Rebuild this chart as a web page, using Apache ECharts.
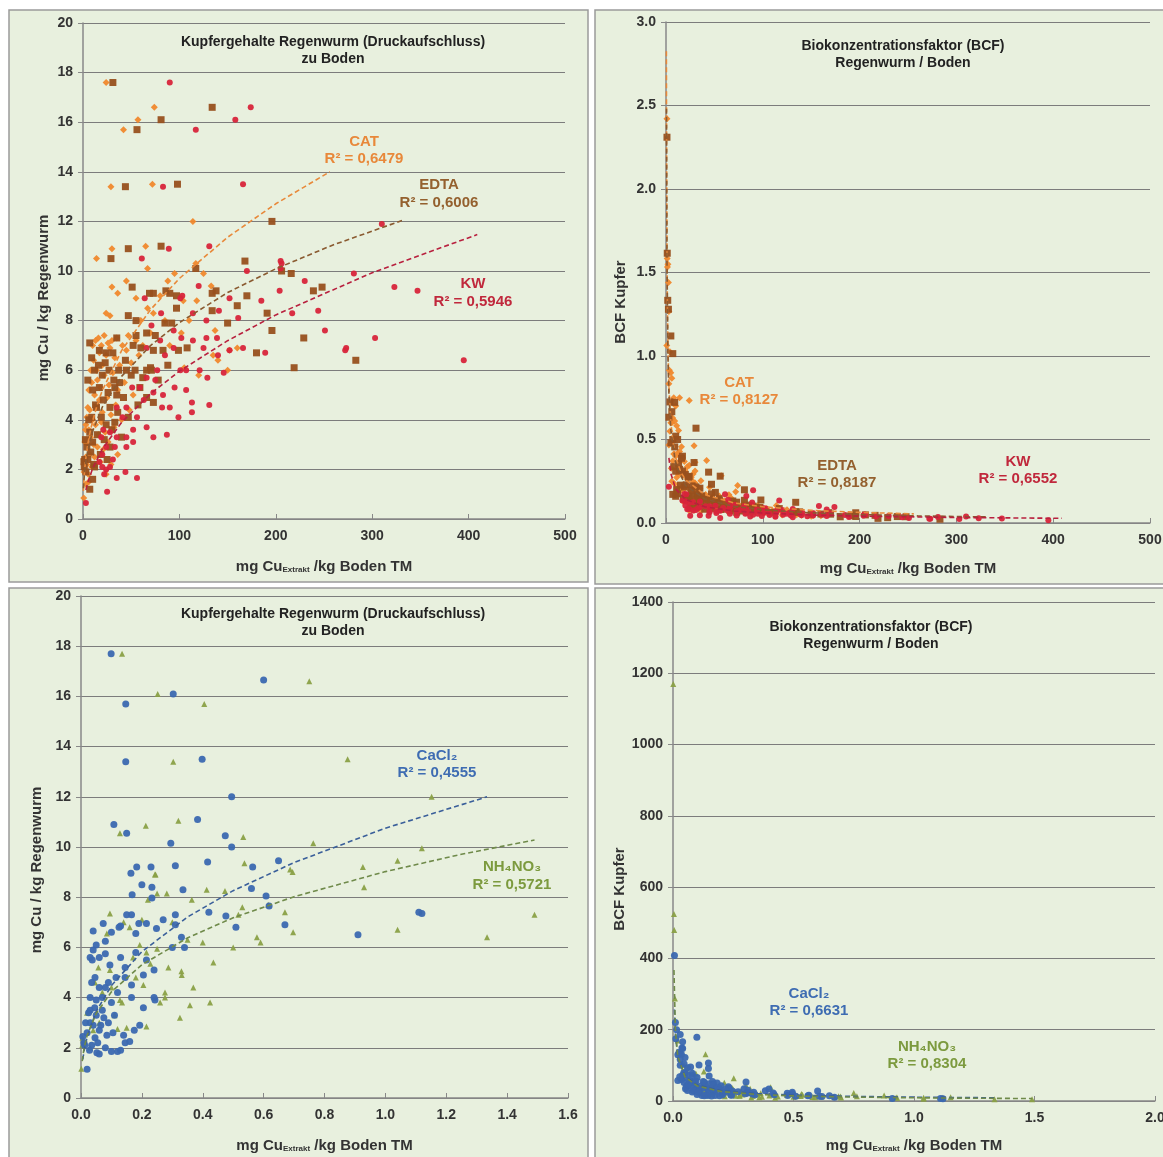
<!DOCTYPE html>
<html><head><meta charset="utf-8">
<script src="https://cdn.jsdelivr.net/npm/echarts@6/dist/echarts.min.js"></script>
<style>html,body{margin:0;padding:0;background:#fff}#c{width:1163px;height:1157px}</style>
</head><body><div id="c"></div>
<script>
// ---- Panel A/B data: [mg Cu extract / kg soil, mg Cu / kg earthworm]
const catData = [[24,17.6],[74,16.6],[57,16.1],[42,15.7],[29,13.4],[72,13.5],[114,12.0],[14,10.5],[30,10.9],[65,11.0],[67,10.1],[117,10.3],[30,9.35],[36,9.1],[133,9.4],[24,8.3],[28,8.2],[67,8.5],[73,8.3],[104,8.8],[118,8.8],[137,7.6],[152,6.8],[135,6.6],[140,6.4],[102,7.5],[160,6.9],[88,9.6],[95,9.9],[45,9.6],[55,8.9],[80,9.0],[125,9.9],[150,6.0],[105,6.1],[120,5.8],
[0.8,0.85],[1.0,2.42],[1.2,1.9],[1.5,2.3],[2,3.1],[2.5,3.6],[3,3.8],[3,2.5],[3.5,3.2],[4,4.1],[4,2.2],[5,4.5],[5,3.0],[5.5,1.8],[6,5.2],[6,3.6],[7,2.6],[7,4.4],[8,6.0],[8,3.3],[9,5.5],[9,2.1],[10,7.0],[10,4.0],[11,6.4],[11,3.0],[12,2.5],[12,5.0],[13,7.2],[13,3.8],[14,6.0],[14,4.5],[15,2.9],[15,5.6],[16,7.3],[16,3.4],[17,6.7],[17,4.8],[18,2.3],[18,5.3],[19,7.0],[19,3.9],[20,6.2],[20,4.3],[21,2.8],[22,7.4],[22,5.8],[23,3.5],[24,6.6],[25,4.9],[26,7.1],[26,3.1],[27,5.4],[28,6.9],[29,4.2],[30,7.2],[31,5.9],[32,3.7],[33,6.5],[34,4.6],[35,7.3],[36,5.2],[38,6.2],[40,4.0],[41,7.0],[43,5.5],[45,6.8],[47,7.4],[50,6.3],[52,5.0],[55,7.2],[58,6.6],[62,7.0],[48,4.4],[36,2.6],[29,2.2],[24,1.8],[6,1.5],[3,1.4],[60,8.0],[70,7.5],[85,8.0],[90,7.0],[110,8.0]];
const edtaData = [[31,17.6],[134,16.6],[81,16.1],[56,15.7],[44,13.4],[98,13.5],[196,12.0],[29,10.5],[47,10.9],[81,11.0],[117,10.1],[168,10.4],[216,9.9],[51,9.35],[69,9.1],[86,9.2],[134,9.1],[97,9.0],[206,10.0],[239,9.2],[248,9.35],[229,7.3],[283,6.4],[219,6.1],[90,9.1],[73,9.1],[138,9.2],[134,8.4],[191,8.3],[196,7.6],[180,6.7],[47,8.2],[55,8.0],[85,7.9],[92,7.9],[97,8.5],[66,7.5],[55,7.4],[35,7.3],[52,7.0],[99,6.8],[108,6.9],[83,6.8],[73,6.8],[160,8.6],[150,7.9],[170,9.0],
[1.0,2.31],[1.3,2.1],[1.8,2.4],[2.5,3.2],[3,1.9],[4,2.9],[5,2.4],[5,5.6],[6,4.0],[7,7.1],[7,3.5],[7,1.2],[8,2.7],[9,6.5],[9,4.1],[10,5.2],[10,3.1],[10,1.6],[11,2.2],[12,6.0],[12,2.1],[13,4.6],[14,4.5],[15,3.4],[16,6.2],[17,6.8],[17,5.3],[18,2.6],[19,4.1],[20,5.8],[21,4.8],[22,3.2],[23,6.3],[24,6.7],[24,3.8],[25,2.4],[26,5.1],[27,6.0],[28,4.5],[28,2.9],[30,3.6],[31,6.7],[32,5.6],[33,5.3],[33,3.9],[35,5.0],[36,4.3],[37,6.0],[38,5.5],[40,3.3],[42,4.9],[44,6.4],[45,6.0],[47,4.1],[50,5.8],[54,6.0],[57,4.6],[59,5.3],[62,5.7],[66,6.0],[66,4.9],[70,6.1],[71,6.0],[73,4.7],[78,5.6],[88,6.2],[60,6.9],[75,7.4]];
const kwData = [[90,17.6],[174,16.6],[158,16.1],[117,15.7],[83,13.4],[166,13.5],[61,10.5],[89,10.9],[131,11.0],[205,10.4],[205,10.1],[204,9.2],[120,9.4],[103,9.0],[310,11.9],[206,10.3],[281,9.9],[323,9.35],[347,9.2],[217,8.3],[244,8.4],[251,7.6],[303,7.3],[272,6.8],[273,6.9],[395,6.4],[101,8.9],[114,8.3],[128,8.0],[141,8.4],[152,8.9],[161,8.1],[189,6.7],[166,6.9],[152,6.8],[140,6.6],[128,7.3],[114,7.2],[102,7.3],[94,7.6],[94,6.9],[125,6.9],[139,7.3],[121,6.0],[107,6.0],[101,6.0],[146,5.9],[129,5.7],[107,5.2],[95,5.3],[83,5.0],[82,4.5],[90,4.5],[99,4.1],[113,4.3],[113,4.7],[131,4.6],[73,5.1],[73,3.3],[87,3.4],[66,3.7],[56,4.1],[52,3.6],[45,3.3],[52,3.1],[45,2.9],[44,1.9],[56,1.65],[35,1.65],[25,1.1],[24,2.0],[28,2.1],[31,2.4],[33,2.9],[35,3.3],[28,3.5],[45,4.5],[41,4.1],[51,5.3],[59,5.3],[66,5.7],[63,4.8],[75,5.6],[77,6.0],[66,6.9],[80,7.2],[85,6.6],[81,8.3],[71,7.8],[64,8.9],[35,4.5],[21,3.6],[19,3.3],[24,2.9],[20,2.6],[17,2.3],[20,2.1],[22,1.8],[3,0.65],[170,10.0],[230,9.6],[185,8.8]];
// trend lines (power fits)
const catTrend = [[0.4,1.13],[0.6,1.32],[1,1.61],[1.5,1.89],[2,2.11],[3,2.47],[5,3.02],[7,3.44],[10,3.95],[15,4.63],[20,5.18],[40,6.79],[70,8.44],[100,9.70],[150,11.36],[200,12.71],[256,14.0]];
const edtaTrend = [[0.5,1.24],[1,1.58],[2,2.01],[3,2.32],[5,2.78],[10,3.54],[20,4.51],[40,5.75],[70,6.99],[100,7.92],[150,9.13],[200,10.09],[260,11.06],[332,12.05]];
const kwTrend = [[3,1.17],[5,1.48],[10,2.04],[20,2.82],[40,3.89],[70,5.05],[100,5.96],[150,7.19],[200,8.23],[300,9.93],[409,11.47]];

// ---- Panel C/D data
const cacl2Data = [[0.099,17.7],[0.60,16.65],[0.303,16.1],[0.147,15.7],[0.147,13.4],[0.398,13.5],[0.495,12.0],[0.108,10.9],[0.15,10.55],[0.383,11.1],[0.295,10.15],[0.474,10.45],[0.495,10.0],[0.164,8.95],[0.183,9.2],[0.23,9.2],[0.31,9.25],[0.416,9.4],[0.564,9.2],[0.649,9.45],[0.91,6.5],[1.12,7.35],[1.11,7.4],[0.2,8.5],[0.233,8.4],[0.233,7.97],[0.168,8.1],[0.335,8.3],[0.608,8.05],[0.618,7.65],[0.56,8.35],[0.42,7.4],[0.476,7.25],[0.509,6.8],[0.67,6.9],
[0.006,2.45],[0.01,2.2],[0.012,2.1],[0.02,1.15],[0.052,1.8],[0.06,1.75],[0.08,2.0],[0.1,1.85],[0.12,1.85],[0.046,2.4],[0.06,2.7],[0.03,3.0],[0.05,3.3],[0.07,3.5],[0.09,3.0],[0.1,3.8],[0.05,3.9],[0.03,4.0],[0.06,4.4],[0.046,4.8],[0.08,4.4],[0.145,4.8],[0.145,5.2],[0.13,5.6],[0.115,4.8],[0.08,5.75],[0.06,5.6],[0.03,5.6],[0.05,6.1],[0.08,6.25],[0.1,6.6],[0.04,6.65],[0.073,6.95],[0.13,6.85],[0.15,7.3],[0.166,7.3],[0.125,6.8],[0.18,6.55],[0.19,6.95],[0.215,6.95],[0.248,6.75],[0.27,7.1],[0.31,7.3],[0.31,6.9],[0.33,6.4],[0.3,6.0],[0.34,6.0],[0.18,5.8],[0.215,5.5],[0.24,5.1],[0.205,4.9],[0.166,4.5],[0.166,4.0],[0.205,3.6],[0.24,4.0],[0.243,3.9],[0.193,2.9],[0.175,2.7],[0.16,2.25],[0.14,2.5],[0.145,2.2],[0.02,2.6],[0.025,3.4],[0.035,2.1],[0.04,2.9],[0.045,3.6],[0.055,2.2],[0.065,2.9],[0.07,4.0],[0.075,3.2],[0.085,2.5],[0.09,4.6],[0.095,5.3],[0.11,3.3],[0.12,4.2],[0.035,4.6],[0.028,1.9],[0.015,3.0],[0.03,3.5],[0.105,2.6],[0.13,1.9],[0.037,5.5],[0.04,5.9]];
const nh4no3Data = [[0.135,17.7],[0.252,16.1],[0.405,15.7],[0.303,13.4],[0.128,10.55],[0.213,10.85],[0.32,11.05],[0.533,10.4],[0.245,8.9],[0.537,9.35],[0.695,9.0],[0.876,13.5],[1.152,12.0],[0.763,10.15],[1.12,9.95],[0.687,9.1],[0.926,9.2],[1.04,9.45],[0.93,8.4],[1.49,7.3],[0.697,6.6],[1.04,6.7],[1.334,6.4],[0.75,16.6],
[0.001,1.17],[0.004,2.1],[0.005,2.4],[0.008,2.3],[0.243,8.9],[0.282,8.15],[0.25,8.15],[0.413,8.3],[0.473,8.25],[0.364,7.9],[0.517,7.3],[0.53,7.6],[0.615,7.7],[0.67,7.4],[0.578,6.4],[0.59,6.2],[0.5,6.0],[0.435,5.4],[0.4,6.2],[0.369,4.4],[0.424,3.8],[0.358,3.7],[0.325,3.2],[0.331,4.9],[0.33,5.05],[0.287,5.2],[0.276,4.2],[0.276,4.0],[0.26,3.8],[0.205,4.5],[0.215,2.85],[0.128,3.9],[0.095,7.35],[0.085,6.55],[0.057,5.2],[0.046,4.6],[0.095,5.1],[0.171,5.6],[0.215,5.8],[0.193,6.1],[0.25,5.95],[0.228,5.35],[0.02,3.4],[0.04,2.7],[0.11,3.3],[0.12,2.75],[0.15,2.8],[0.135,3.8],[0.03,2.0],[0.06,3.0],[0.07,4.2],[0.1,4.4],[0.16,6.8],[0.2,7.1],[0.14,7.0],[0.18,4.8],[0.3,7.0],[0.35,6.3],[0.22,7.9]];
const cacl2Trend = [[0.006,1.54],[0.01,1.87],[0.02,2.43],[0.05,3.45],[0.1,4.48],[0.2,5.83],[0.35,7.21],[0.5,8.26],[0.7,9.38],[1.0,10.75],[1.334,12.0]];
const nh4no3Trend = [[0.004,1.47],[0.01,1.98],[0.02,2.49],[0.05,3.37],[0.1,4.23],[0.2,5.31],[0.35,6.38],[0.5,7.18],[0.7,8.02],[1.0,9.02],[1.25,9.71],[1.49,10.28]];

// labels
const titleA = ['Kupfergehalte Regenwurm (Druckaufschluss)', 'zu Boden'];
const titleB = ['Biokonzentrationsfaktor (BCF)', 'Regenwurm / Boden'];
const yNameA = 'mg Cu / kg Regenwurm';
const yNameB = 'BCF Kupfer';
const r2A = {CAT:'R² = 0,6479', EDTA:'R² = 0,6006', KW:'R² = 0,5946'};
const r2B = {CAT:'R² = 0,8127', EDTA:'R² = 0,8187', KW:'R² = 0,6552'};
const r2C = {CaCl2:'R² = 0,4555', NH4NO3:'R² = 0,5721'};
const r2D = {CaCl2:'R² = 0,6631', NH4NO3:'R² = 0,8304'};

const bcf = arr => arr.map(p => [p[0], p[1] / p[0]]);

const C = {cat:'#f0882c', edta:'#98501e', kw:'#d8243a', ca:'#3b68b0', nh:'#8aa046'};
const TC = {cat:'#e8883a', edta:'#94602e', kw:'#c0283c', ca:'#3e6cb2', nh:'#7c9a3e'};
const FONT = '"Liberation Sans", Arial, "DejaVu Sans", sans-serif';

const chart = echarts.init(document.getElementById('c'));

const grids = [
  {left:83, top:23, width:482, height:496},
  {left:666, top:22, width:484, height:501},
  {left:81, top:596, width:487, height:502},
  {left:673, top:602, width:482, height:499}
].map(g => Object.assign(g, {containLabel:false, outerBoundsMode:'none'}));

function xAxis(i, max, interval, dec, gap) {
  return {
    type:'value', gridIndex:i, min:0, max:max, interval:interval,
    name: '{a|mg Cu}{s|Extrakt}{a| /kg Boden TM}',
    nameLocation: 'middle', nameGap: gap,
    nameTextStyle: {rich: {a:{fontFamily:FONT, fontWeight:'bold', fontSize:15, color:'#333'}, s:{fontFamily:FONT, fontWeight:'bold', fontSize:8, color:'#333', verticalAlign:'bottom', padding:[7,0,0,0]}}},
    axisLine:{show:true, onZero:false, lineStyle:{color:'#888', width:1.5}},
    axisTick:{show:true, inside:true, length:5, lineStyle:{color:'#888'}},
    splitLine:{show:false},
    axisLabel:{fontFamily:FONT, fontWeight:'bold', fontSize:14, color:'#333', margin:10,
      formatter: v => dec ? v.toFixed(dec) : String(v)}
  };
}
function yAxis(i, max, interval, dec) {
  return {
    type:'value', gridIndex:i, min:0, max:max, interval:interval,
    axisLine:{show:true, onZero:false, lineStyle:{color:'#888', width:1.5}},
    axisTick:{show:true, length:5, lineStyle:{color:'#888'}},
    splitLine:{show:true, lineStyle:{color:'#7c7c7c', width:1.2}},
    axisLabel:{fontFamily:FONT, fontWeight:'bold', fontSize:14, color:'#333', margin:10,
      formatter: v => dec ? v.toFixed(dec) : String(v)}
  };
}

function scatter(i, data, color, symbol, size) {
  return {type:'scatter', xAxisIndex:i, yAxisIndex:i, data:data, symbol:symbol, symbolSize:size,
    itemStyle:{color:color, opacity:0.95}, silent:true, clip:true};
}
function trend(i, data, color) {
  return {type:'line', xAxisIndex:i, yAxisIndex:i, data:data, showSymbol:false, symbol:'none',
    lineStyle:{color:color, width:1.6, type:[5,3]}, silent:true, clip:true, z:5};
}

const series = [
  scatter(0, catData, C.cat, 'diamond', 7),
  scatter(0, edtaData, C.edta, 'rect', 7),
  scatter(0, kwData, C.kw, 'circle', 6),
  trend(0, catTrend, '#e8893a'), trend(0, edtaTrend, '#8a5a30'), trend(0, kwTrend, '#b8203e'),
  scatter(1, bcf(catData), C.cat, 'diamond', 7),
  scatter(1, bcf(edtaData), C.edta, 'rect', 7),
  scatter(1, bcf(kwData), C.kw, 'circle', 6),
  trend(1, bcf(catTrend), '#e8893a'), trend(1, bcf(edtaTrend), '#8a5a30'), trend(1, bcf(kwTrend), '#b8203e'),
  scatter(2, nh4no3Data, C.nh, 'triangle', 6),
  scatter(2, cacl2Data, C.ca, 'circle', 7),
  trend(2, cacl2Trend, '#3a5f9a'), trend(2, nh4no3Trend, '#6f8a4a'),
  scatter(3, bcf(nh4no3Data), C.nh, 'triangle', 6),
  scatter(3, bcf(cacl2Data), C.ca, 'circle', 7),
  trend(3, bcf(cacl2Trend), '#3a5f9a'), trend(3, bcf(nh4no3Trend), '#6f8a4a')
];

function txt(x, y, s, color, size, rot) {
  return {type:'text', x:x, y:y, z:50, silent:true, rotation: rot || 0,
    style:{text:s, fill:color, font:'bold ' + size + 'px ' + FONT, textAlign:'center', textVerticalAlign:'middle'}};
}
function lbl(x, y1, y2, name, r2, color) {
  return [txt(x, y1, name, color, 15), txt(x, y2, r2, color, 15)];
}
function panel(x, y, w, h) {
  return {type:'rect', z:-10, silent:true, shape:{x:x, y:y, width:w, height:h},
    style:{fill:'#e8f0de', stroke:'#9a9a9a', lineWidth:1.5}};
}

const graphic = [
  panel(9, 10, 579, 572), panel(595, 10, 575, 574), panel(9, 588, 579, 575), panel(595, 588, 575, 575),
  txt(333, 42, titleA[0], '#222', 14), txt(333, 59, titleA[1], '#222', 14),
  txt(903, 46, titleB[0], '#222', 14), txt(903, 63, titleB[1], '#222', 14),
  txt(333, 614, titleA[0], '#222', 14), txt(333, 631, titleA[1], '#222', 14),
  txt(871, 627, titleB[0], '#222', 14), txt(871, 644, titleB[1], '#222', 14),
  txt(44, 298, yNameA, '#333', 15, Math.PI / 2),
  txt(37, 870, yNameA, '#333', 15, Math.PI / 2),
  txt(621, 302, yNameB, '#333', 15, Math.PI / 2),
  txt(620, 889, yNameB, '#333', 15, Math.PI / 2),
  ...lbl(364, 142, 159, 'CAT', r2A.CAT, TC.cat),
  ...lbl(439, 185, 203, 'EDTA', r2A.EDTA, TC.edta),
  ...lbl(473, 284, 302, 'KW', r2A.KW, TC.kw),
  ...lbl(739, 383, 400, 'CAT', r2B.CAT, TC.cat),
  ...lbl(837, 466, 483, 'EDTA', r2B.EDTA, TC.edta),
  ...lbl(1018, 462, 479, 'KW', r2B.KW, TC.kw),
  ...lbl(437, 756, 773, 'CaCl₂', r2C.CaCl2, TC.ca),
  ...lbl(512, 867, 885, 'NH₄NO₃', r2C.NH4NO3, TC.nh),
  ...lbl(809, 994, 1011, 'CaCl₂', r2D.CaCl2, TC.ca),
  ...lbl(927, 1047, 1064, 'NH₄NO₃', r2D.NH4NO3, TC.nh)
];

chart.setOption({
  animation:false,
  backgroundColor:'#ffffff',
  grid:grids,
  xAxis:[xAxis(0,500,100,0,40), xAxis(1,500,100,0,38), xAxis(2,1.6,0.2,1,40), xAxis(3,2,0.5,1,37)],
  yAxis:[yAxis(0,20,2,0), yAxis(1,3,0.5,1), yAxis(2,20,2,0), yAxis(3,1400,200,0)],
  series:series,
  graphic:graphic
});
</script></body></html>
